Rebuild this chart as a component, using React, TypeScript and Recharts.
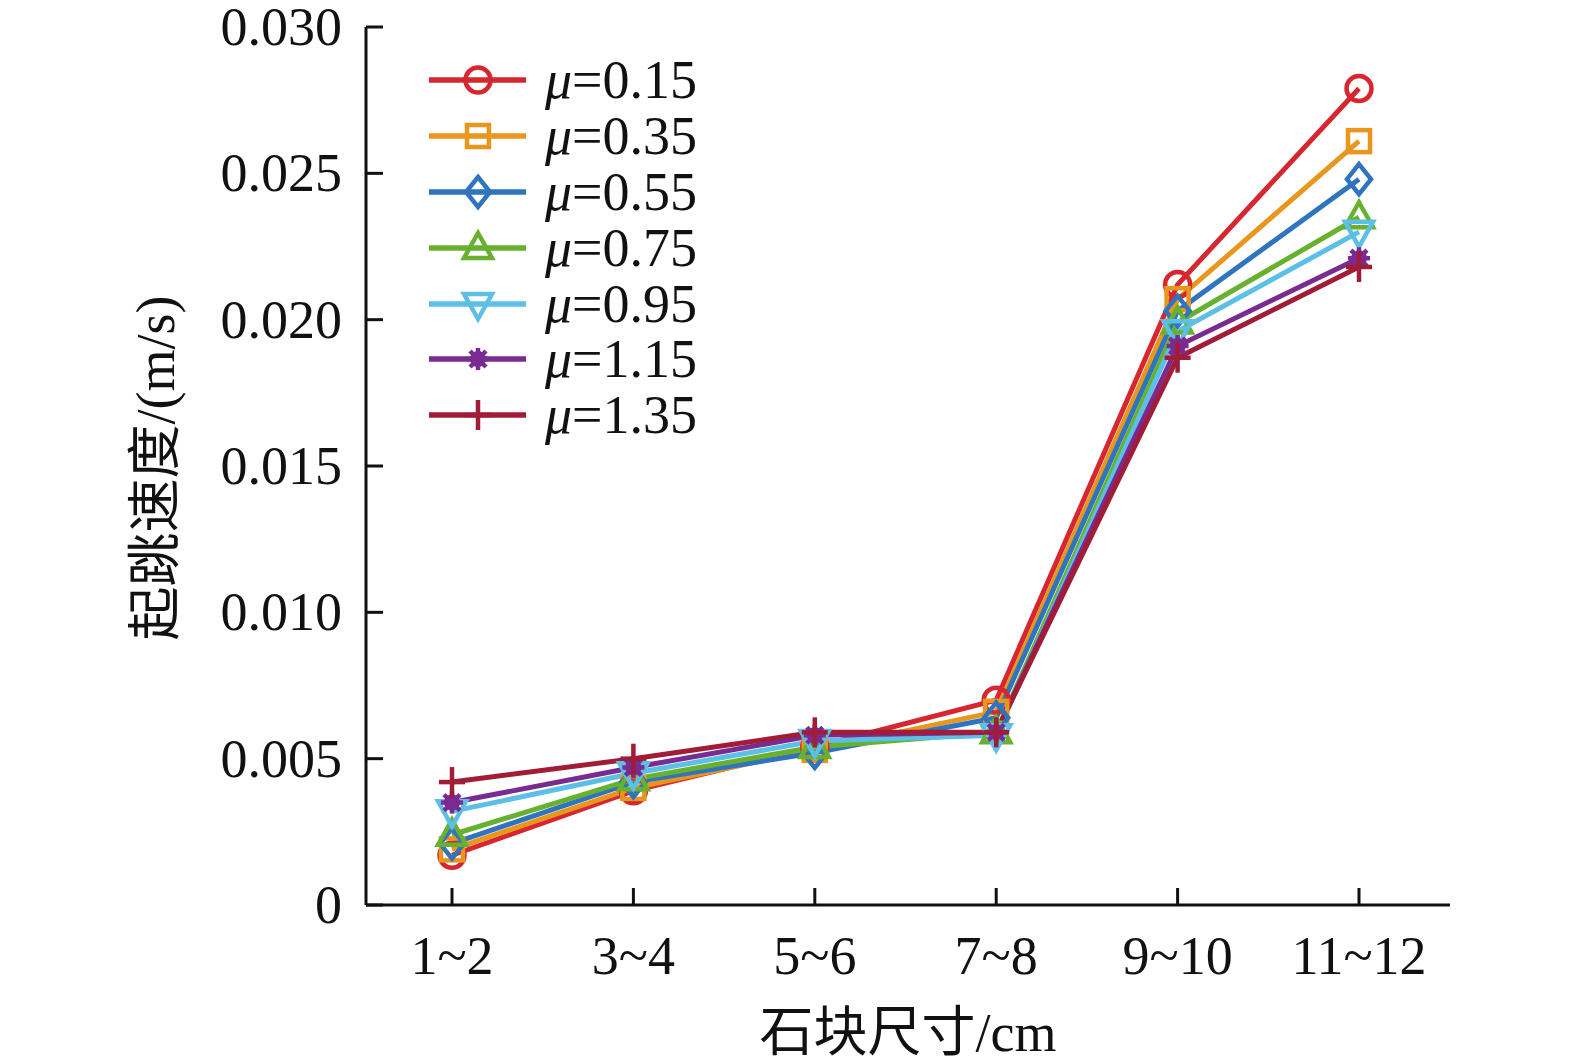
import { LineChart, Line, XAxis, YAxis, Legend } from 'recharts';

const sizes = ['1~2', '3~4', '5~6', '7~8', '9~10', '11~12'];
const yTicks = [0, 0.005, 0.01, 0.015, 0.02, 0.025, 0.03];

const mu015 = [0.0017, 0.0039, 0.0054, 0.0070, 0.0212, 0.0279];
const mu035 = [0.0019, 0.0040, 0.0053, 0.0066, 0.0207, 0.0261];
const mu055 = [0.0021, 0.0042, 0.0052, 0.0064, 0.0203, 0.0248];
const mu075 = [0.0024, 0.0043, 0.0054, 0.0059, 0.0199, 0.0235];
const mu095 = [0.0032, 0.0045, 0.0056, 0.0058, 0.0196, 0.0230];
const mu115 = [0.0035, 0.0047, 0.0058, 0.0059, 0.0191, 0.0221];
const mu135 = [0.0042, 0.0050, 0.0059, 0.0059, 0.0187, 0.0218];

const SERIES = [
  { key: 'a', name: '0.15', vals: mu015, color: '#D7262F', shape: 'circle' },
  { key: 'b', name: '0.35', vals: mu035, color: '#E8961E', shape: 'square' },
  { key: 'c', name: '0.55', vals: mu055, color: '#2F74BE', shape: 'diamond' },
  { key: 'd', name: '0.75', vals: mu075, color: '#68B12F', shape: 'up' },
  { key: 'e', name: '0.95', vals: mu095, color: '#5CC0E6', shape: 'down' },
  { key: 'f', name: '1.15', vals: mu115, color: '#7A2B92', shape: 'star' },
  { key: 'g', name: '1.35', vals: mu135, color: '#A11C36', shape: 'plus' },
];

const data = sizes.map((s, i) => {
  const row: any = { s };
  SERIES.forEach((se) => (row[se.key] = se.vals[i]));
  return row;
});

const SERIF = '"Liberation Serif", "Times New Roman", serif';
const CJK = '"Noto Sans CJK SC", sans-serif';
const FS = 54;

function Marker({ cx, cy, shape, color }: any) {
  const sw = 4.5;
  if (shape === 'circle') return <circle cx={cx} cy={cy} r={12.5} fill="none" stroke={color} strokeWidth={sw} />;
  if (shape === 'square')
    return <rect x={cx - 11} y={cy - 11} width={22} height={22} fill="none" stroke={color} strokeWidth={sw} />;
  if (shape === 'diamond')
    return (
      <polygon
        points={`${cx},${cy - 15} ${cx + 12},${cy} ${cx},${cy + 15} ${cx - 12},${cy}`}
        fill="none"
        stroke={color}
        strokeWidth={sw}
      />
    );
  if (shape === 'up')
    return (
      <polygon
        points={`${cx},${cy - 15} ${cx + 14},${cy + 10} ${cx - 14},${cy + 10}`}
        fill="none"
        stroke={color}
        strokeWidth={sw}
      />
    );
  if (shape === 'down')
    return (
      <polygon
        points={`${cx},${cy + 15} ${cx + 14},${cy - 10} ${cx - 14},${cy - 10}`}
        fill="none"
        stroke={color}
        strokeWidth={sw}
      />
    );
  if (shape === 'star')
    return (
      <g stroke={color} strokeWidth={4.5}>
        <circle cx={cx} cy={cy} r={8} fill={color} stroke="none" />
        <line x1={cx - 11} y1={cy} x2={cx + 11} y2={cy} />
        <line x1={cx} y1={cy - 11} x2={cx} y2={cy + 11} />
        <line x1={cx - 8} y1={cy - 8} x2={cx + 8} y2={cy + 8} />
        <line x1={cx - 8} y1={cy + 8} x2={cx + 8} y2={cy - 8} />
      </g>
    );
  return (
    <g stroke={color} strokeWidth={4.5}>
      <line x1={cx - 13} y1={cy} x2={cx + 13} y2={cy} />
      <line x1={cx} y1={cy - 15} x2={cx} y2={cy + 15} />
    </g>
  );
}

function YTick({ x, y, payload }: any) {
  const v = payload.value;
  return (
    <g>
      <line x1={x + 24} y1={y} x2={x + 41} y2={y} stroke="#111" strokeWidth={3} />
      <text x={x} y={y} dy={18} textAnchor="end" fontFamily={SERIF} fontSize={FS} fill="#111">
        {v === 0 ? '0' : v.toFixed(3)}
      </text>
    </g>
  );
}

function XTick({ x, y, payload }: any) {
  return (
    <g>
      <line x1={x} y1={y} x2={x} y2={y - 17} stroke="#111" strokeWidth={3} />
      <text x={x} y={y + 69} textAnchor="middle" fontFamily={SERIF} fontSize={FS} fill="#111">
        {payload.value}
      </text>
    </g>
  );
}

function LegendBox() {
  return (
    <div style={{ display: 'flex', flexDirection: 'column' }}>
      {SERIES.map((se) => (
        <div key={se.key} style={{ display: 'flex', alignItems: 'center', height: 55.9 }}>
          <svg width={101} height={40}>
            <line x1={2} y1={20} x2={99} y2={20} stroke={se.color} strokeWidth={5.5} />
            <Marker cx={51} cy={20} shape={se.shape} color={se.color} />
          </svg>
          <span style={{ fontFamily: SERIF, fontSize: FS, color: '#111', marginLeft: 17, lineHeight: 1 }}>
            <i>μ</i>={se.name}
          </span>
        </div>
      ))}
    </div>
  );
}

export default function App() {
  return (
    <div style={{ position: 'absolute', left: 0, top: 0, width: 1575, height: 1063, background: '#fff', overflow: 'hidden' }}>
      <style>{'html,body{margin:0;overflow:hidden}'}</style>
      <LineChart width={1575} height={1063} data={data} margin={{ top: 27, right: 125, bottom: 98, left: 306 }}>
        <XAxis
          dataKey="s"
          height={60}
          padding={{ left: 86, right: 91 }}
          tickSize={0}
          tickMargin={0}
          tick={<XTick />}
          stroke="#111"
          strokeWidth={3}
          interval={0}
          label={(p: any) => (
            <text x={908} y={1051} textAnchor="middle" fontFamily={SERIF} fontSize={FS} fill="#111">
              <tspan fontFamily={CJK}>石块尺寸</tspan>/cm
            </text>
          )}
        />
        <YAxis
          width={60}
          domain={[0, 0.03]}
          ticks={yTicks}
          tickSize={0}
          tickMargin={24}
          tick={<YTick />}
          stroke="#111"
          strokeWidth={3}
          interval={0}
          label={(p: any) => (
            <text
              x={174}
              y={468}
              transform="rotate(-90 174 468)"
              textAnchor="middle"
              fontFamily={SERIF}
              fontSize={FS}
              fill="#111"
            >
              <tspan fontFamily={CJK}>起跳速度</tspan>/(m/s)
            </text>
          )}
        />
        <Legend
          layout="vertical"
          verticalAlign="middle"
          align="center"
          content={() => <LegendBox />}
          wrapperStyle={{ position: 'absolute', left: 427, top: 52, width: 330 }}
        />
        {SERIES.map((se) => (
          <Line
            key={se.key}
            dataKey={se.key}
            name={se.name}
            stroke={se.color}
            strokeWidth={5}
            isAnimationActive={false}
            dot={(p: any) => <Marker key={`${se.key}-${p.index}`} cx={p.cx} cy={p.cy} shape={se.shape} color={se.color} />}
            activeDot={false}
          />
        ))}
      </LineChart>
    </div>
  );
}
